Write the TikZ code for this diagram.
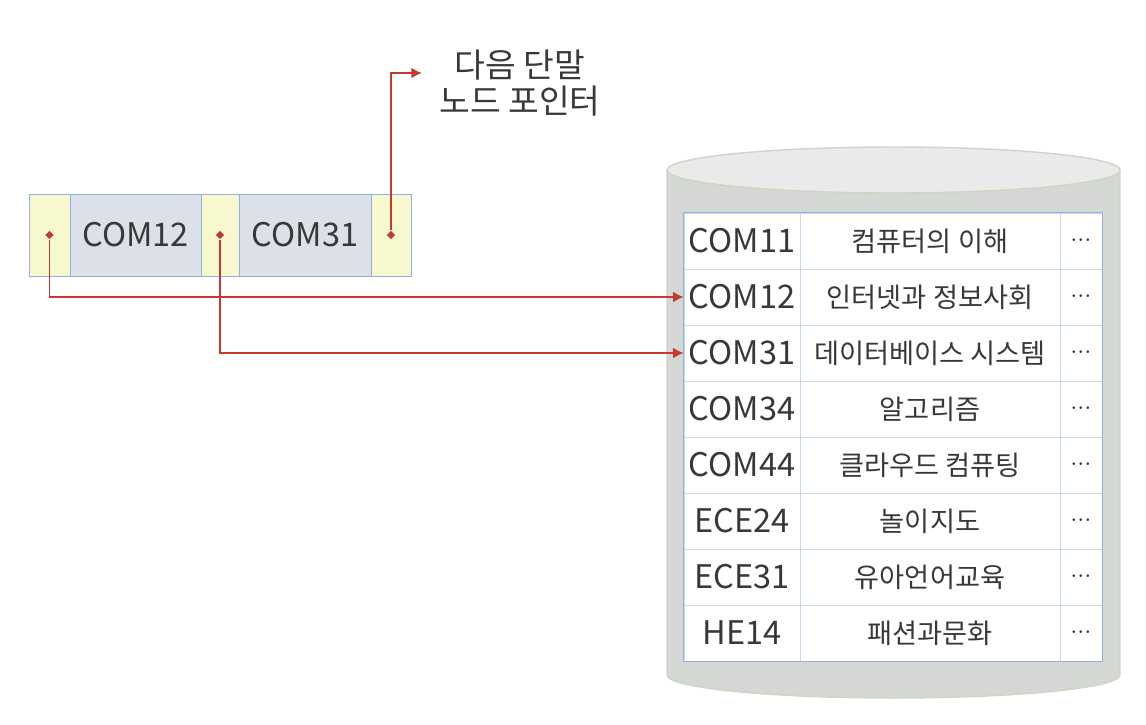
\documentclass[tikz,border=0pt]{standalone}
\usepackage{fontspec}
\setmainfont{Noto Sans CJK KR}
\usetikzlibrary{arrows.meta, shapes.geometric}
\definecolor{ptrred}{HTML}{C43A30}
\definecolor{ptryellow}{HTML}{F8F8CF}
\definecolor{keygray}{HTML}{DCE0E8}
\definecolor{cellline}{HTML}{8DB3DE}
\definecolor{gridline}{HTML}{C4D9EE}
\definecolor{dbbody}{HTML}{D5D7D5}
\definecolor{dbtop}{HTML}{E9EAE9}
\definecolor{dbedge}{HTML}{CAD8C2}
\definecolor{txt}{HTML}{383838}
\tikzset{
    ptrcell/.style={draw=cellline, fill=ptryellow, inner sep=0pt, minimum height=1.64cm},
    keycell/.style={draw=cellline, fill=keygray, inner sep=0pt, minimum height=1.64cm,
        text=txt, font=\fontsize{18.5}{21}\selectfont},
    dot/.style={diamond, fill=ptrred, inner sep=0pt, minimum size=0.17cm},
    codecell/.style={draw=gridline, fill=white, inner sep=0pt, minimum width=2.32cm,
        minimum height=1.12cm, text=txt, font=\fontsize{18.5}{21}\selectfont},
    namecell/.style={draw=gridline, fill=white, inner sep=0pt, minimum width=5.2cm,
        minimum height=1.12cm, text=txt, font=\fontsize{15.5}{18}\selectfont},
    morecell/.style={draw=gridline, fill=white, inner sep=0pt, minimum width=0.84cm,
        minimum height=1.12cm, text=txt, font=\fontsize{14}{16}\selectfont},
    ptr/.style={draw=ptrred, line width=0.9pt, -{Latex[length=6pt, width=6pt]}}
}
\newcommand{\moredots}{${\cdot}{\cdot}{\cdot}$}
\begin{document}
\begin{tikzpicture}[x=0.02cm, y=-0.02cm]
    \useasboundingbox (0,0) rectangle (1146,724);

    % database cylinder
    \path[fill=dbbody, draw=dbedge, line width=0.8pt] (667,170) -- (667,675)
        arc[start angle=180, end angle=360, x radius=4.53cm, y radius=0.46cm]
        -- (1120,170) -- cycle;
    \path[fill=dbtop, draw=dbedge, line width=0.8pt] (893.5,170) ellipse [x radius=4.53cm, y radius=0.46cm];

    % table rows
    \node[codecell] (k1) at (742,241) {COM11};  \node[namecell] (n1) at (930,241) {컴퓨터의 이해};      \node[morecell] (m1) at (1081,241) {\moredots};
    \node[codecell] (k2) at (742,297) {COM12};  \node[namecell] (n2) at (930,297) {인터넷과 정보사회};  \node[morecell] (m2) at (1081,297) {\moredots};
    \node[codecell] (k3) at (742,353) {COM31};  \node[namecell] (n3) at (930,353) {데이터베이스 시스템}; \node[morecell] (m3) at (1081,353) {\moredots};
    \node[codecell] (k4) at (742,409) {COM34};  \node[namecell] (n4) at (930,409) {알고리즘};          \node[morecell] (m4) at (1081,409) {\moredots};
    \node[codecell] (k5) at (742,465) {COM44};  \node[namecell] (n5) at (930,465) {클라우드 컴퓨팅};   \node[morecell] (m5) at (1081,465) {\moredots};
    \node[codecell] (k6) at (742,521) {ECE24};  \node[namecell] (n6) at (930,521) {놀이지도};          \node[morecell] (m6) at (1081,521) {\moredots};
    \node[codecell] (k7) at (742,577) {ECE31};  \node[namecell] (n7) at (930,577) {유아언어교육};      \node[morecell] (m7) at (1081,577) {\moredots};
    \node[codecell] (k8) at (742,633) {HE14};   \node[namecell] (n8) at (930,633) {패션과문화};        \node[morecell] (m8) at (1081,633) {\moredots};
    \draw[cellline, line width=0.9pt] (k1.north west) rectangle (m8.south east);

    % leaf node
    \node[ptrcell, minimum width=0.82cm] (c1) at (49.5,235) {};
    \node[keycell, minimum width=2.62cm] (c2) at (135.5,235) {COM12};
    \node[ptrcell, minimum width=0.76cm] (c3) at (220,235) {};
    \node[keycell, minimum width=2.64cm] (c4) at (305,235) {COM31};
    \node[ptrcell, minimum width=0.8cm] (c5) at (391,235) {};
    \node[dot] (p1) at (c1) {};
    \node[dot] (p2) at (c3) {};
    \node[dot] (p3) at (c5) {};

    \node[text=txt, align=center, font=\fontsize{19}{20}\selectfont] (nxt) at (520,83) {다음 단말\\노드 포인터};
    \coordinate (nxtend) at (422,73);

    \draw[ptr] (p1) |- (k2.west);
    \draw[ptr] (p2) |- (k3.west);
    \draw[ptr] (p3) |- (nxtend);
\end{tikzpicture}
\end{document}
